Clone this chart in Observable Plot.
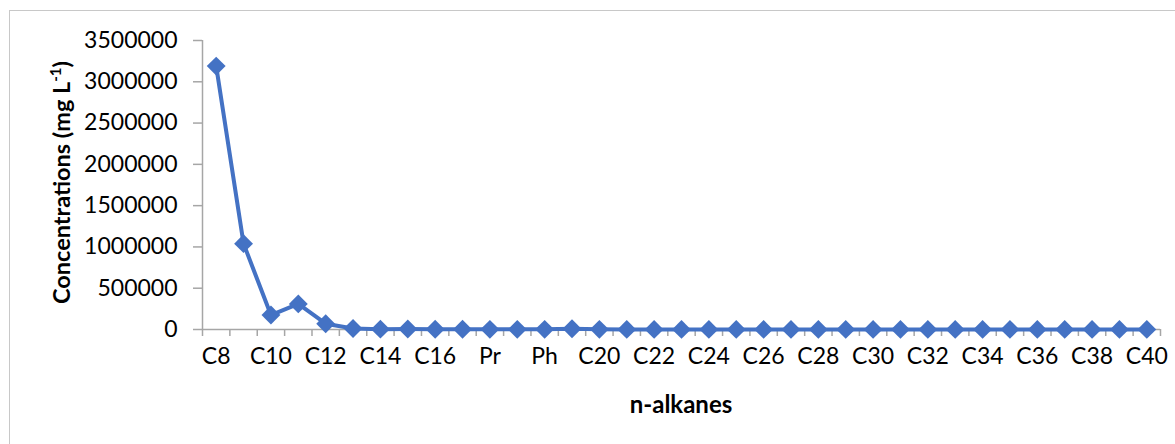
<!DOCTYPE html>
<html>
<head>
<meta charset="utf-8">
<script src="https://cdn.jsdelivr.net/npm/d3@7"></script>
<script src="https://cdn.jsdelivr.net/npm/@observablehq/plot@0.6"></script>
<style>
  html, body { margin: 0; padding: 0; background: #fff; }
  #wrap { position: relative; width: 1175px; height: 444px; overflow: hidden; }
  #frame { position: absolute; left: 9px; top: 10px; width: 1300px; height: 600px; border: 1.5px solid #c8c8c8; box-sizing: border-box; }
  #chart { position: absolute; left: 0; top: 0; }
</style>
</head>
<body>
<div id="wrap"><div id="frame"></div><div id="chart"></div></div>
<script>
const categories = ["C8","C9","C10","C11","C12","C13","C14","C15","C16","C17","Pr","C18","Ph","C19",
  "C20","C21","C22","C23","C24","C25","C26","C27","C28","C29","C30","C31","C32","C33","C34","C35",
  "C36","C37","C38","C39","C40"];
const concentrations = [3190000, 1040000, 175000, 310000, 70000, 12000, 4000, 6000, 3000, 3000, 2000, 2000, 2000, 9000,
  2000, 1500, 1500, 1500, 1500, 1500, 1500, 1500, 1500, 1500, 1500, 1500, 1500, 1500, 1500, 1500,
  1500, 1500, 1500, 1500, 1500];
const yTicks = [0, 500000, 1000000, 1500000, 2000000, 2500000, 3000000, 3500000];
const xLabels = categories.filter((d, i) => i % 2 === 0);

const data = categories.map((c, i) => ({cat: c, value: concentrations[i]}));

const W = 1175, H = 444;
const mL = 202, mR = 15, mT = 40, mB = 115;
const bw = (W - mL - mR) / categories.length;
const axisGray = "#a6a6a6";
const blue = "#4472c4";
const font = "Lato, 'Open Sans', sans-serif";

const chart = Plot.plot({
  width: W, height: H,
  marginLeft: mL, marginRight: mR, marginTop: mT, marginBottom: mB,
  style: {fontFamily: font, fontSize: "23px", color: "#000", background: "transparent", overflow: "visible"},
  x: {type: "band", domain: categories, padding: 0, round: false, label: null},
  y: {type: "linear", domain: [0, 3500000], label: null},
  marks: [
    Plot.ruleY([0], {stroke: axisGray, strokeWidth: 1.5}),
    Plot.ruleX([categories[0]], {x: d => d, dx: -bw / 2, y1: 0, y2: 3500000, stroke: axisGray, strokeWidth: 1.5}),
    Plot.ruleX(categories, {x: d => d, dx: -bw / 2, y1: 0, y2: 0, insetBottom: -7, stroke: axisGray, strokeWidth: 1.5}),
    Plot.ruleX([categories[categories.length - 1]], {x: d => d, dx: bw / 2, y1: 0, y2: 0, insetBottom: -7, stroke: axisGray, strokeWidth: 1.5}),
    Plot.axisY({ticks: yTicks, tickFormat: d => String(d), tickSize: 9, tickPadding: 16, stroke: axisGray, strokeWidth: 1.5, fill: "#000"}),
    Plot.axisX({ticks: xLabels, tickSize: 0, tickPadding: 18, fill: "#000"}),
    Plot.line(data, {x: "cat", y: "value", stroke: blue, strokeWidth: 4}),
    Plot.dot(data, {x: "cat", y: "value", symbol: "diamond2", r: 8.5, fill: blue, stroke: "none"})
  ]
});

document.getElementById("chart").appendChild(chart);

// Axis titles
const svg = d3.select(chart);
const yt = svg.append("text")
  .attr("transform", `translate(70,${mT + (H - mT - mB) / 2 - 2}) rotate(-90)`)
  .attr("text-anchor", "middle")
  .attr("font-family", font)
  .attr("font-weight", "bold")
  .attr("font-size", 23.5)
  .attr("fill", "#000");
yt.append("tspan").text("Concentrations (mg L");
yt.append("tspan").attr("baseline-shift", "super").attr("font-size", 15).text("-1");
yt.append("tspan").text(")");

svg.append("text")
  .attr("x", mL + (W - mL - mR) / 2)
  .attr("y", 413)
  .attr("text-anchor", "middle")
  .attr("font-family", font)
  .attr("font-weight", "bold")
  .attr("font-size", 24)
  .attr("fill", "#000")
  .text("n-alkanes");
</script>
</body>
</html>
